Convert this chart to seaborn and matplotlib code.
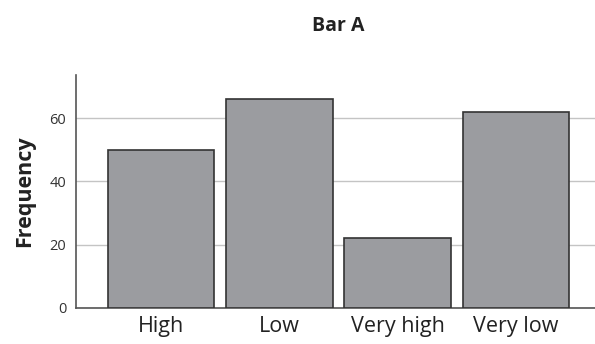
import matplotlib
matplotlib.use("Agg")
import matplotlib.pyplot as plt
import seaborn as sns
import pandas as pd

# Data
categories = ["High", "Low", "Very high", "Very low"]
frequency = [50, 66, 22, 62]

df = pd.DataFrame({"category": categories, "frequency": frequency})

sns.set_style("white")
plt.rcParams["font.family"] = ["Open Sans", "DejaVu Sans"]

fig = plt.figure(figsize=(5.95, 3.44), dpi=100)
ax = fig.add_axes([0.1277, 0.1047, 0.8723, 0.6773])

sns.barplot(data=df, x="category", y="frequency", color="#9b9ca0",
            width=0.9, edgecolor="#333333", linewidth=1.2, saturation=1,
            ax=ax, zorder=3)

ax.set_xlim(-0.717, 3.666)
ax.set_ylim(0, 73.6)
ax.set_yticks([0, 20, 40, 60])
ax.yaxis.grid(True, color="#c4c4c4", linewidth=1, zorder=0)
ax.set_axisbelow(True)

for s in ["top", "right"]:
    ax.spines[s].set_visible(False)
for s in ["left", "bottom"]:
    ax.spines[s].set_color("#555555")
    ax.spines[s].set_linewidth(1.2)

ax.tick_params(axis="y", length=0, labelsize=10.5, labelcolor="#333333", pad=7)
ax.tick_params(axis="x", length=0, labelsize=15.5, labelcolor="#222222", pad=6)

ax.set_xlabel("")
ax.set_ylabel("Frequency", fontsize=15.5, fontweight="bold", color="#222222", labelpad=10)
fig.text(0.568, 0.925, "Bar A", ha="center", va="center",
         fontsize=14, fontweight="bold", color="#222222")

fig.savefig("out.png", dpi=100)
